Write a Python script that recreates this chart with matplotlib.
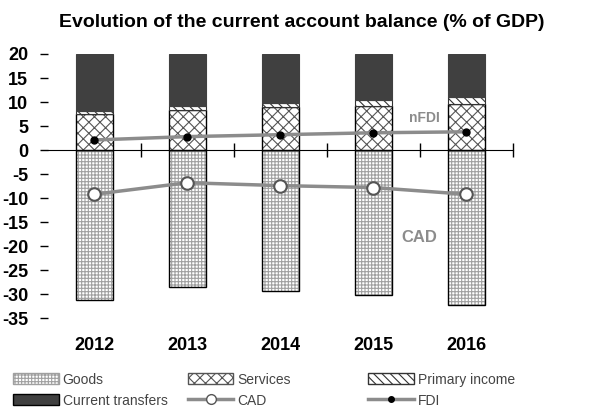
import numpy as np
import matplotlib.pyplot as plt
from matplotlib.patches import Patch
from matplotlib.lines import Line2D

plt.rcParams['font.family'] = 'Liberation Sans'
plt.rcParams['hatch.linewidth'] = 0.8
plt.rcParams['axes.unicode_minus'] = False

years = ["2012", "2013", "2014", "2015", "2016"]
goods = [-31.2, -28.5, -29.3, -30.1, -32.3]
services = [7.6, 8.3, 9.0, 9.2, 9.6]
primary_income = [0.5, 0.9, 0.8, 1.2, 1.4]
current_transfers = [11.9, 10.8, 10.2, 9.6, 9.0]
cad = [-9.2, -6.8, -7.4, -7.8, -9.2]
fdi = [2.1, 2.8, 3.2, 3.6, 3.8]

x = np.arange(len(years))
w = 0.4
services = np.array(services)
primary_income = np.array(primary_income)

fig = plt.figure(figsize=(5.97, 4.09), dpi=100)
ax = fig.add_axes([0.080, 0.222, 0.779, 0.646])

# bars
ax.bar(x, goods, w, color="white", edgecolor="#a0a0a0", hatch="+++++", linewidth=0)
ax.bar(x, goods, w, color="none", edgecolor="black", linewidth=1)
ax.bar(x, services, w, color="white", edgecolor="#555555", hatch="xxx", linewidth=0)
ax.bar(x, services, w, color="none", edgecolor="black", linewidth=1)
ax.bar(x, primary_income, w, bottom=services, color="white", edgecolor="#333333",
       hatch="\\\\\\\\", linewidth=0.8)
ax.bar(x, current_transfers, w, bottom=services + primary_income, color="#404040",
       edgecolor="#404040", linewidth=0.8)

# lines
ax.plot(x, cad, color="#8c8c8c", lw=2.5, marker="o", ms=9, mfc="white",
        mec="#555555", mew=1.5, zorder=5)
ax.plot(x, fdi, color="#8c8c8c", lw=2.5, marker="o", ms=5, mfc="black",
        mec="black", zorder=5)

ax.set_xlim(-0.5, 4.5)
ax.set_ylim(-35, 20)
for s in ["top", "right", "left"]:
    ax.spines[s].set_visible(False)
ax.spines["bottom"].set_position(("data", 0))
ax.set_xticks(np.arange(0.5, 5, 1.0))
ax.set_xticklabels([])
ax.tick_params(axis="x", direction="inout", length=10, width=1)
ax.set_yticks(np.arange(-35, 21, 5))
ax.tick_params(axis="y", length=6, width=1, pad=8, labelsize=13)
for t in ax.get_yticklabels():
    t.set_fontweight("bold")

for i, yr in enumerate(years):
    ax.text(i, -0.105, yr, transform=ax.get_xaxis_transform(), ha="center",
            va="center", fontsize=13, fontweight="bold")

ax.text(3.55, 6.7, "nFDI", color="#8c8c8c", fontsize=10, fontweight="bold",
        ha="center", va="center")
ax.text(3.5, -18.3, "CAD", color="#8c8c8c", fontsize=12, fontweight="bold",
        ha="center", va="center")

fig.text(0.505, 0.945, "Evolution of the current account balance (% of GDP)",
         ha="center", va="center", fontsize=14, fontweight="bold")

# legend, three columns placed like the original
h_goods = Patch(facecolor="white", edgecolor="#a0a0a0", hatch="+++++", label="Goods")
h_serv = Patch(facecolor="white", edgecolor="#555555", hatch="xxx", label="Services")
h_prim = Patch(facecolor="white", edgecolor="#333333", hatch="\\\\\\\\", label="Primary income")
h_ct = Patch(facecolor="#404040", edgecolor="black", label="Current transfers")
h_cad = Line2D([], [], color="#8c8c8c", lw=2.5, marker="o", ms=7, mfc="white",
               mec="#555555", label="CAD")
h_fdi = Line2D([], [], color="#8c8c8c", lw=2.5, marker="o", ms=4, mfc="black",
               mec="black", label="FDI")
cols = [([h_goods, h_ct], 0.012), ([h_serv, h_cad], 0.305), ([h_prim, h_fdi], 0.607)]
for hs, xpos in cols:
    leg = fig.legend(handles=hs, loc="lower left", bbox_to_anchor=(xpos, -0.01),
                     frameon=False, fontsize=10, handlelength=3.3, handleheight=0.8,
                     handletextpad=0.3, labelspacing=0.5, borderaxespad=0.0)
    for t in leg.get_texts():
        t.set_color("#444444")

plt.savefig("out.png")
